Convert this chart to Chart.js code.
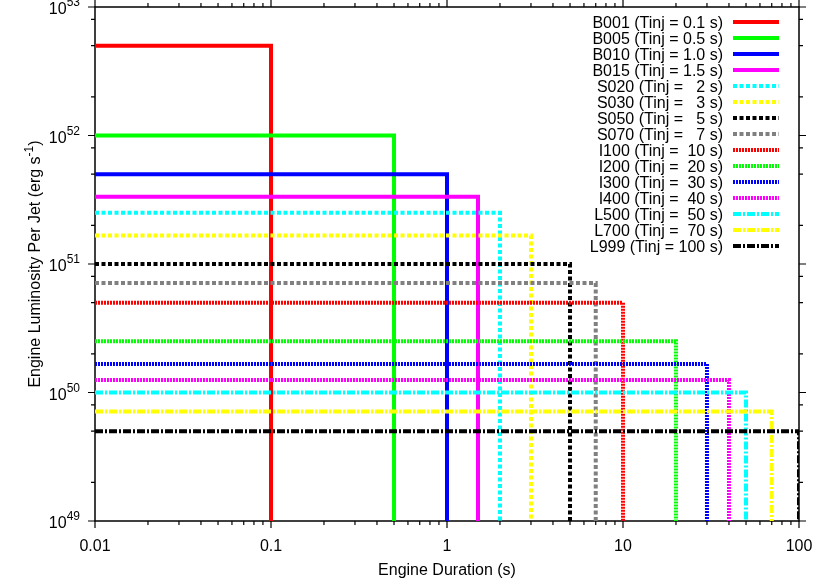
<!DOCTYPE html>
<html>
<head>
<meta charset="utf-8">
<script src="https://cdn.jsdelivr.net/npm/chart.js@4.4.1/dist/chart.umd.min.js"></script>
<style>
  html, body { margin: 0; padding: 0; background: #fff; }
  canvas { display: block; }
</style>
</head>
<body>
<canvas id="engineChart" width="830" height="581"></canvas>
<script>
// ==========================================
// data
// ==========================================
const runNames = ['B001', 'B005', 'B010', 'B015', 'S020', 'S030', 'S050', 'S070', 'I100', 'I200', 'I300', 'I400', 'L500', 'L700', 'L999'];
const tinjText = ['0.1', '0.5', '1.0', '1.5', '  2', '  3', '  5', '  7', ' 10', ' 20', ' 30', ' 40', ' 50', ' 70', '100'];
const tinj = [0.1, 0.5, 1.0, 1.5, 2, 3, 5, 7, 10, 20, 30, 40, 50, 70, 100];
const lumPerJet = [5e52, 1e52, 5e51, 3.33e51, 2.5e51, 1.67e51, 1e51, 7.1e50, 5e50, 2.5e50, 1.67e50, 1.25e50, 1e50, 7.1e49, 5e49];
const lineColors = ['#ff0000', '#00ff00', '#0000ff', '#ff00ff', '#00ffff', '#ffff00', '#000000', '#808080', '#ff0000', '#00ff00', '#0000ff', '#ff00ff', '#00ffff', '#ffff00', '#000000'];
const lineKinds = ['solid', 'solid', 'solid', 'solid', 'dash', 'dash', 'dash', 'dash', 'dot', 'dot', 'dot', 'dot', 'dashdot', 'dashdot', 'dashdot'];

const xStart = 0.01, xEnd = 100, yLow = 1e49, yHigh = 1e53;
const xTickLabels = ['0.01', '0.1', '1', '10', '100'];
const yTickExps = [49, 50, 51, 52, 53];
const xMinorMult = [2, 3, 4, 5, 6, 7, 8, 9];
const yMinorMult = [2, 5, 8];

const dashFor = { solid: [], dash: [4, 2.5], dot: [2, 1], dashdot: [8, 2, 2, 2] };
const FONT = '"Liberation Sans", Arial, Helvetica, sans-serif';

const datasets = runNames.map((name, i) => ({
    label: `${name} (Tinj = ${tinjText[i]} s)`,
    data: [{ x: xStart, y: lumPerJet[i] }, { x: tinj[i], y: lumPerJet[i] }, { x: tinj[i], y: yLow }],
    borderColor: lineColors[i],
    borderWidth: 4,
    borderDash: dashFor[lineKinds[i]],
    borderCapStyle: 'butt',
    borderJoinStyle: 'miter',
    pointRadius: 0,
    fill: false,
    tension: 0,
    order: runNames.length - 1 - i
}));

// ==========================================
// frame, ticks, labels and key (gnuplot look)
// ==========================================
const gnuFrame = {
    id: 'gnuFrame',
    beforeDatasetsDraw(chart) {
        const { ctx, chartArea: a, scales: { x, y } } = chart;
        ctx.save();
        ctx.strokeStyle = '#000'; ctx.lineWidth = 1.5;
        ctx.strokeRect(a.left, a.top, a.right - a.left, a.bottom - a.top);

        ctx.lineWidth = 1.2;
        ctx.beginPath();
        for (let d = -2; d <= 2; d++) {
            [1, ...xMinorMult].forEach(m => {
                const v = m * Math.pow(10, d);
                if (v > xEnd * 1.0001) return;
                const px = x.getPixelForValue(v), len = m === 1 ? 7 : 4;
                ctx.moveTo(px, a.bottom); ctx.lineTo(px, a.bottom + len);
                ctx.moveTo(px, a.top); ctx.lineTo(px, a.top - len);
            });
        }
        for (let e = 49; e <= 53; e++) {
            [1, ...yMinorMult].forEach(m => {
                const v = m * Math.pow(10, e);
                if (v > yHigh * 1.0001) return;
                const py = y.getPixelForValue(v), len = m === 1 ? 7 : 4;
                ctx.moveTo(a.left, py); ctx.lineTo(a.left - len, py);
                ctx.moveTo(a.right, py); ctx.lineTo(a.right + len, py);
            });
        }
        ctx.stroke();

        // tick labels
        ctx.fillStyle = '#000';
        ctx.font = `16px ${FONT}`; ctx.textAlign = 'center'; ctx.textBaseline = 'alphabetic';
        xTickLabels.forEach(t => ctx.fillText(t, x.getPixelForValue(parseFloat(t)), 551));
        yTickExps.forEach(e => {
            const py = y.getPixelForValue(Math.pow(10, e));
            ctx.font = `12px ${FONT}`;
            const supW = ctx.measureText(String(e)).width;
            ctx.textAlign = 'left'; ctx.fillText(String(e), 80 - supW, py - 1);
            ctx.font = `16px ${FONT}`; ctx.textAlign = 'right';
            ctx.fillText('10', 80 - supW, py + 7);
        });

        // axis titles
        ctx.textAlign = 'center'; ctx.font = `16px ${FONT}`;
        ctx.fillText('Engine Duration (s)', (a.left + a.right) / 2, 575);

        ctx.save();
        ctx.translate(40, (a.top + a.bottom) / 2);
        ctx.rotate(-Math.PI / 2);
        const part1 = 'Engine Luminosity Per Jet (erg s', sup = '-1', part3 = ')';
        ctx.font = `16px ${FONT}`;
        const w1 = ctx.measureText(part1).width, w3 = ctx.measureText(part3).width;
        ctx.font = `12px ${FONT}`;
        const w2 = ctx.measureText(sup).width;
        let cx = -(w1 + w2 + w3) / 2;
        ctx.textAlign = 'left';
        ctx.font = `16px ${FONT}`; ctx.fillText(part1, cx, 0); cx += w1;
        ctx.font = `12px ${FONT}`; ctx.fillText(sup, cx, -7); cx += w2;
        ctx.font = `16px ${FONT}`; ctx.fillText(part3, cx, 0);
        ctx.restore();
        ctx.restore();
    },
    afterDatasetsDraw(chart) {
        const { ctx } = chart;
        ctx.save();
        ctx.font = `16px ${FONT}`; ctx.fillStyle = '#000';
        ctx.textAlign = 'right'; ctx.textBaseline = 'alphabetic';
        chart.data.datasets.forEach((ds, i) => {
            const rowY = 22 + 16 * i;
            ctx.fillText(ds.label, 723, rowY + 6);
            ctx.strokeStyle = ds.borderColor; ctx.lineWidth = ds.borderWidth;
            ctx.setLineDash(ds.borderDash); ctx.lineCap = 'butt';
            ctx.beginPath(); ctx.moveTo(733, rowY); ctx.lineTo(779, rowY); ctx.stroke();
        });
        ctx.restore();
    }
};

new Chart(document.getElementById('engineChart').getContext('2d'), {
    type: 'line',
    data: { datasets: datasets },
    options: {
        responsive: false,
        animation: false,
        layout: { padding: { left: 95, right: 31, top: 7, bottom: 60 } },
        scales: {
            x: { type: 'logarithmic', min: xStart, max: xEnd, display: false },
            y: { type: 'logarithmic', min: yLow, max: yHigh, display: false }
        },
        plugins: { legend: { display: false }, tooltip: { enabled: false } }
    },
    plugins: [gnuFrame]
});
</script>
</body>
</html>
